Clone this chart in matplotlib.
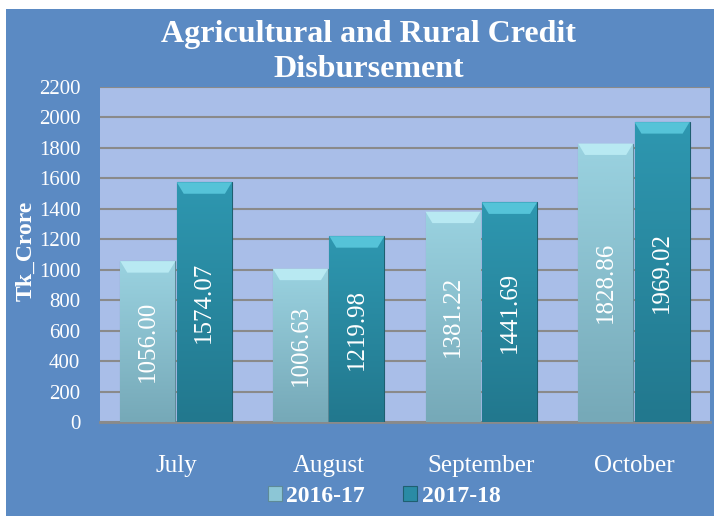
import numpy as np
import matplotlib.pyplot as plt
from matplotlib.patches import Rectangle, Polygon

# Agricultural and rural credit disbursement (Tk crore)
months = ['July', 'August', 'September', 'October']
fy_2016_17 = [1056.00, 1006.63, 1381.22, 1828.86]
fy_2017_18 = [1574.07, 1219.98, 1441.69, 1969.02]
series_names = ['2016-17', '2017-18']

plt.rcParams['font.family'] = ['Liberation Serif', 'DejaVu Serif']

fig = plt.figure(figsize=(7.18, 5.21), dpi=100, facecolor='white')

# blue chart frame
fig.patches.append(Rectangle((6 / 718, 5 / 521), 708 / 718, 507 / 521,
                             transform=fig.transFigure, facecolor='#5B8AC3',
                             edgecolor='none', zorder=-1))

ax = fig.add_axes([0.139, 0.190, 0.850, 0.643])
ax.set_facecolor('#A9BEE8')

x = np.arange(len(months))
w = 0.36
light = '#8CC6D6'
dark = '#2A8BA5'

b1 = ax.bar(x - w / 2 - 0.005, fy_2016_17, w, color=light, edgecolor='#5E8A98',
            linewidth=0.8, zorder=3, label=series_names[0])
b2 = ax.bar(x + w / 2 + 0.005, fy_2017_18, w, color=dark, edgecolor='#1F5F70',
            linewidth=0.8, zorder=3, label=series_names[1])

# vertical shading and bevelled top of each bar
shade = np.linspace(1, 0, 64).reshape(-1, 1)
for bars, cmap_cols, top in ((b1, ('#76A9B8', '#9AD2E0'), '#B8E9F2'),
                             (b2, ('#22788E', '#2E97B0'), '#55C3D8')):
    cm = plt.matplotlib.colors.LinearSegmentedColormap.from_list('s', cmap_cols)
    for r in bars:
        x0, x1, h = r.get_x(), r.get_x() + r.get_width(), r.get_height()
        im = ax.imshow(shade, extent=(x0, x1, 0, h), cmap=cm, aspect='auto',
                       zorder=3.5, interpolation='bilinear')
        im.set_clip_path(r)
        inset = 0.045
        ax.add_patch(Polygon([(x0, h), (x1, h), (x1 - inset, h - 75), (x0 + inset, h - 75)],
                             closed=True, facecolor=top, edgecolor='none', zorder=4))

for bars in (b1, b2):
    for r in bars:
        h = r.get_height()
        ax.text(r.get_x() + r.get_width() / 2, h / 2, f'{h:.2f}', rotation=90,
                ha='center', va='center', color='white', fontsize=18, zorder=5)

ax.set_ylim(0, 2200)
ax.set_yticks(range(0, 2201, 200))
ax.set_xlim(-0.5, 3.5)
ax.set_xticks(x)
ax.set_xticklabels(months)
ax.yaxis.grid(True, color='#8A8A8A', linewidth=1.5, zorder=1)
ax.set_axisbelow(True)
for s in ['top', 'right', 'left']:
    ax.spines[s].set_visible(False)
ax.spines['bottom'].set_color('#8A8A8A')
ax.spines['bottom'].set_linewidth(2)
ax.tick_params(axis='both', length=0, colors='white')
ax.tick_params(axis='x', pad=24, labelsize=18)
ax.tick_params(axis='y', pad=14, labelsize=15)

ax.set_ylabel('Tk_Crore', color='white', fontsize=17, fontweight='bold', labelpad=0)
ax.yaxis.set_label_coords(-0.103, 0.51)

fig.text(0.513, 0.9, 'Agricultural and Rural Credit\nDisbursement', ha='center',
         va='center', color='white', fontsize=23, fontweight='bold', linespacing=1.25)

leg = fig.legend(handles=[b1, b2], loc='center', bbox_to_anchor=(0.535, 0.047), ncol=2,
                 frameon=False, handlelength=0.6, handleheight=0.6, handletextpad=0.2,
                 columnspacing=1.6, prop={'weight': 'bold', 'size': 17})
for t in leg.get_texts():
    t.set_color('white')

fig.savefig('out.png', dpi=100, facecolor=fig.get_facecolor())
